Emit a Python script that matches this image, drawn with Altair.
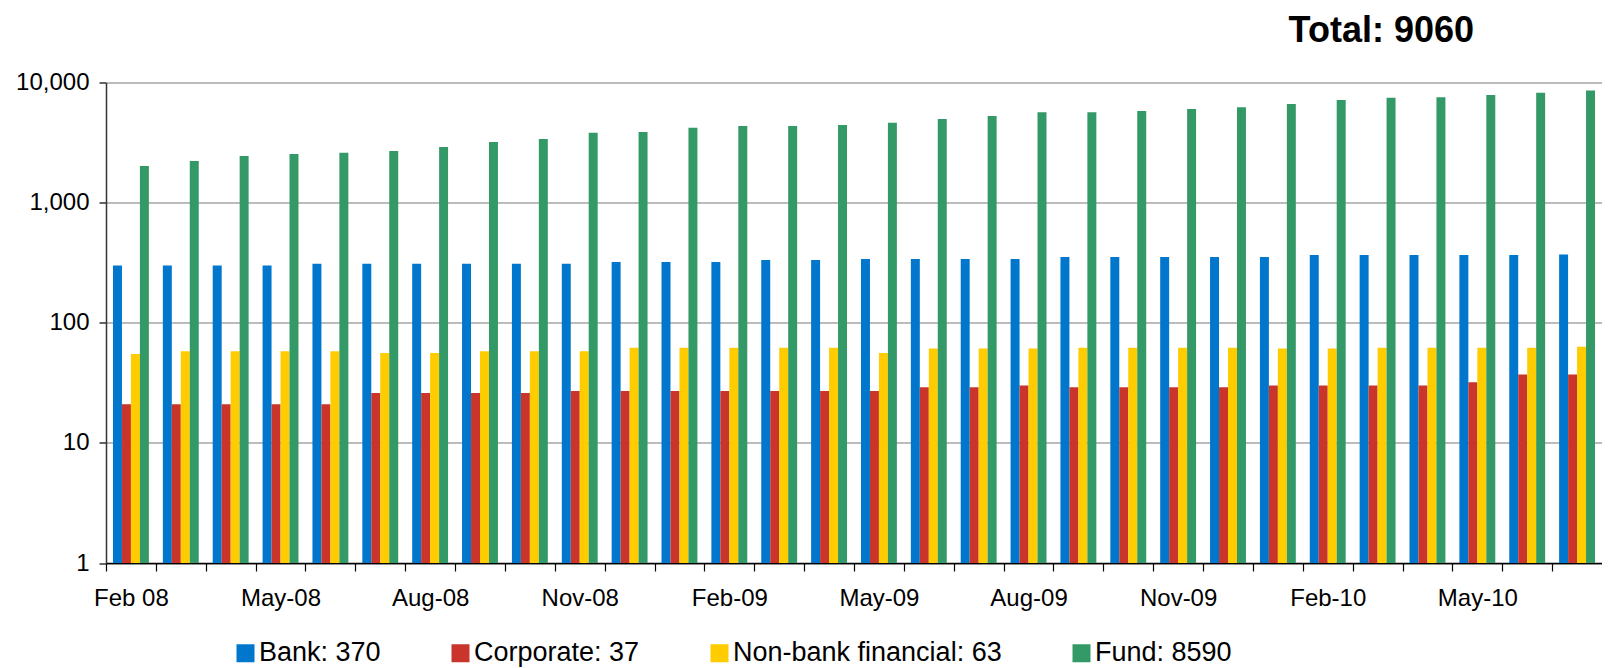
import json
import altair as alt
import pandas as pd

months = [
    "Feb 08", "Mar-08", "Apr-08", "May-08", "Jun-08", "Jul-08", "Aug-08", "Sep-08",
    "Oct-08", "Nov-08", "Dec-08", "Jan-09", "Feb-09", "Mar-09", "Apr-09", "May-09",
    "Jun-09", "Jul-09", "Aug-09", "Sep-09", "Oct-09", "Nov-09", "Dec-09", "Jan-10",
    "Feb-10", "Mar-10", "Apr-10", "May-10", "Jun-10", "Jul-10",
]
label_months = ["Feb 08", "May-08", "Aug-08", "Nov-08", "Feb-09", "May-09",
                "Aug-09", "Nov-09", "Feb-10", "May-10"]

bank = [300, 300, 300, 300, 310, 310, 310, 310, 310, 310,
        320, 320, 320, 333, 333, 340, 340, 340, 340, 352,
        352, 352, 352, 352, 367, 367, 367, 367, 367, 370]
corporate = [21, 21, 21, 21, 21, 26, 26, 26, 26, 27,
             27, 27, 27, 27, 27, 27, 29, 29, 30, 29,
             29, 29, 29, 30, 30, 30, 30, 32, 37, 37]
non_bank = [55, 58, 58, 58, 58, 56, 56, 58, 58, 58,
            62, 62, 62, 62, 62, 56, 61, 61, 61, 62,
            62, 62, 62, 61, 61, 62, 62, 62, 62, 63]
fund = [2018, 2220, 2443, 2545, 2599, 2688, 2898, 3190, 3391, 3811,
        3864, 4195, 4339, 4339, 4429, 4617, 4977, 5257, 5666, 5666,
        5786, 6026, 6237, 6632, 7148, 7452, 7553, 7870, 8200, 8590]

series_labels = ["Bank: 370", "Corporate: 37", "Non-bank financial: 63", "Fund: 8590"]
series_colors = ["#0077CC", "#C9352B", "#FFCC00", "#339966"]
title_text = ["Total: 9060"]
y_ticks = [1, 10, 100, 1000, 10000]

rows = []
for name, vals in zip(series_labels, [bank, corporate, non_bank, fund]):
    for m, v in zip(months, vals):
        rows.append({"month": m, "series": name, "value": v})
df = pd.DataFrame(rows)

FONT = "Liberation Sans"
W = 1496
H = 480.5
step = W / len(months)

label_expr = ("indexof(" + json.dumps(label_months) +
              ", datum.value) >= 0 ? datum.label : ''")

bars = alt.Chart(df).mark_bar().encode(
    x=alt.X(
        "month:N", sort=months, title=None,
        scale=alt.Scale(paddingInner=0.28, paddingOuter=0.14),
        axis=alt.Axis(
            labelExpr=label_expr, labelAngle=0, labelOverlap=False,
            tickOffset=-step / 2, labelOffset=step / 2,
            ticks=True, tickSize=8, tickColor="#000000", tickWidth=1.2,
            domainColor="#000000", domainWidth=1.5, grid=False,
            labelFont=FONT, labelFontSize=24, labelColor="#000000",
            labelPadding=15,
        ),
    ),
    xOffset=alt.XOffset("series:N", sort=series_labels,
                        scale=alt.Scale(paddingInner=0, paddingOuter=0)),
    y=alt.Y(
        "value:Q", title=None,
        scale=alt.Scale(type="log", domain=[1, 10000], nice=False),
        axis=alt.Axis(
            values=y_ticks, format=",", grid=True, gridColor="#A6A6A6",
            gridWidth=1.3, ticks=True, tickSize=7, tickColor="#000000",
            tickWidth=1.2, domainColor="#333333", domainWidth=1.5,
            labelFont=FONT, labelFontSize=24, labelColor="#000000",
            labelPadding=10,
        ),
    ),
    y2=alt.datum(1),
    color=alt.Color(
        "series:N", sort=series_labels,
        scale=alt.Scale(domain=series_labels, range=series_colors),
        legend=alt.Legend(
            title=None, orient="none", legendX=126, legendY=557,
            direction="horizontal", symbolType="square", symbolSize=324,
            symbolStrokeWidth=0, labelFont=FONT, labelFontSize=27,
            labelColor="#000000", labelLimit=500, labelOffset=0,
            columnPadding=66, padding=0,
        ),
    ),
)

title = alt.Chart(pd.DataFrame({"t": title_text})).mark_text(
    font=FONT, fontSize=36, fontWeight="bold", color="#000000",
    align="right", baseline="alphabetic",
).encode(
    text="t:N",
    x=alt.value(W - 128),
    y=alt.value(-41),
)

chart = alt.layer(bars, title).properties(
    width=W, height=H,
    autosize=alt.AutoSizeParams(type="none"),
    padding={"left": 98, "top": 74.5, "right": 0, "bottom": 112},
).configure_view(strokeWidth=0)

chart.save("out.html", embed_options={"renderer": "svg", "actions": False})
